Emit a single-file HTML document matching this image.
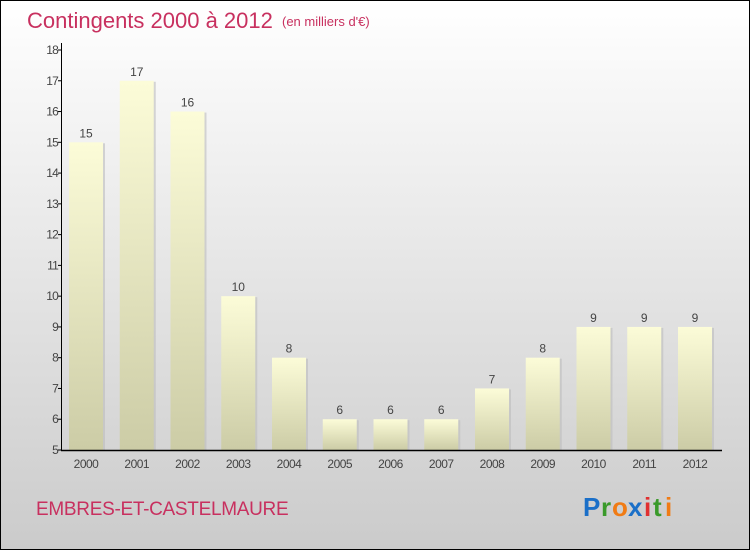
<!DOCTYPE html>
<html><head><meta charset="utf-8"><style>
body{margin:0}
#c{width:748px;height:548px;border:1px solid #000;background:linear-gradient(#fff,#cbcbcb);position:relative;overflow:hidden;font-family:"Liberation Sans",sans-serif}
</style></head><body>
<div id="c">
<svg id="s" width="748" height="548">
<defs>
<linearGradient id="bg" x1="0" y1="0" x2="0" y2="1"><stop offset="0" stop-color="#fcfcd8"/><stop offset="1" stop-color="#cccca6"/></linearGradient>
</defs>
<text x="26" y="27" font-size="22" fill="#c8305f">Contingents 2000 à 2012</text>
<text x="281" y="25" font-size="13" fill="#c8305f">(en milliers d'€)</text>
<text x="35" y="514" font-size="19" fill="#c8305f" letter-spacing="-0.3">EMBRES-ET-CASTELMAURE</text>
<g font-size="26" font-weight="bold">
<text x="582" y="515" fill="#1a6fc8">P</text><text x="600" y="515" fill="#3a9a2a">r</text><text x="611" y="515" fill="#f07b14">o</text><text x="627" y="515" fill="#1a6fc8">x</text><text x="643" y="515" fill="#e03030">i</text><text x="652" y="515" fill="#3a9a2a">t</text><text x="664" y="515" fill="#f07b14">i</text>
</g>
</svg>
</div>
<script>
const categories=["2000","2001","2002","2003","2004","2005","2006","2007","2008","2009","2010","2011","2012"];
const values=[15,17,16,10,8,6,6,6,7,8,9,9,9];
const yTicks=[5,6,7,8,9,10,11,12,13,14,15,16,17,18];
const NS="http://www.w3.org/2000/svg";
const s=document.getElementById('s');
const y=v=>449-(v-5)*(400/13);
const x=i=>68+i*50.75;
function mk(t,a,txt){const e=document.createElementNS(NS,t);for(const k in a)e.setAttribute(k,a[k]);if(txt!=null)e.textContent=txt;s.appendChild(e);return e;}
values.forEach((v,i)=>{
 const sh=mk('rect',{x:x(i)+2,y:y(v)+1,width:34,height:449-y(v),fill:'#bdbdbd',opacity:0.6});
 
 
 const r=mk('rect',{x:x(i),y:y(v),width:34,height:449-y(v),fill:'url(#bg)'});
 
 
 const t=mk('text',{x:x(i)+17,y:y(v)-5,'font-size':12,fill:'#444','text-anchor':'middle'},String(v));
 
 
 const l=mk('text',{x:x(i)+17,y:467,'font-size':12,fill:'#444','text-anchor':'middle','letter-spacing':'-0.5'},categories[i]);
 
 
});
const ya=mk('line',{x1:60.5,y1:42,x2:60.5,y2:449,stroke:'#000'});


const xa=mk('line',{x1:60,y1:449.5,x2:721,y2:449.5,stroke:'#000','stroke-width':1.5});


yTicks.forEach(v=>{
 const tk=mk('line',{x1:57,y1:y(v),x2:61,y2:y(v),stroke:'#000'});
 
 
 const t=mk('text',{x:57,y:y(v)+4,'font-size':12,fill:'#444','text-anchor':'end','letter-spacing':'-0.8'},String(v));
 
 
});
</script>
</body></html>
